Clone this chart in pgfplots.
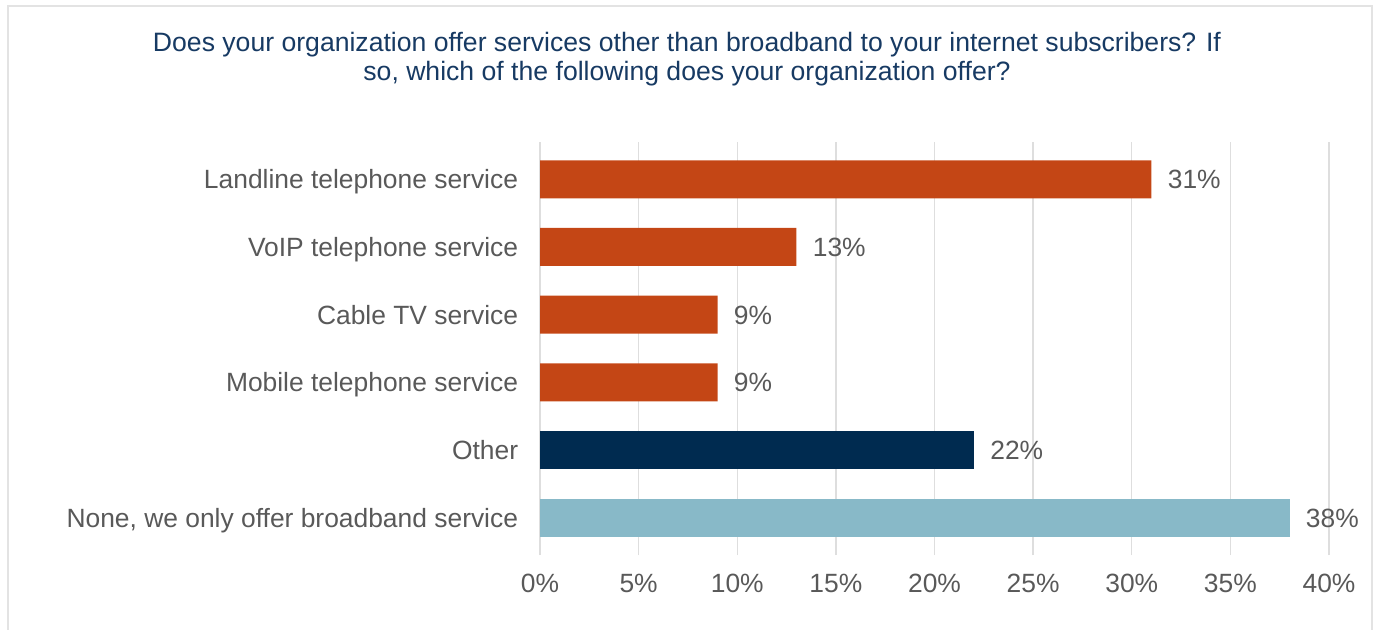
\documentclass[border=0pt]{standalone}
\usepackage{pgfplots}
\pgfplotsset{compat=1.18}
\usepackage{fontspec}
\setmainfont{Liberation Sans}
\definecolor{barorange}{HTML}{C44615}
\definecolor{barnavy}{HTML}{002B50}
\definecolor{barlight}{HTML}{88B9C8}
\definecolor{textgray}{HTML}{595959}
\definecolor{titleblue}{HTML}{173A63}
\definecolor{gridgray}{HTML}{DEDEDE}
\definecolor{framegray}{HTML}{E3E3E3}

\begin{document}
\begin{tikzpicture}[x=1pt,y=1pt]
\begin{axis}[
  at={(270pt,37pt)}, anchor=south west,
  scale only axis, width=394.5pt, height=206.5pt,
  xmin=0, xmax=40, ymin=-0.55, ymax=5.55,
  xbar, bar width=19pt, bar shift=0pt,
  xtick={0,5,...,40},
  xticklabel={\pgfmathprintnumber{\tick}\%},
  /pgf/number format/assume math mode=true,
  ytick={0,...,5},
  yticklabels={{None, we only offer broadband service}, Other, Mobile telephone service, Cable TV service, VoIP telephone service, Landline telephone service},
  xmajorgrids, grid style={color=gridgray, line width=0.7pt},
  axis line style={draw=none}, tick style={draw=none},
  tick label style={font=\fontsize{13.2}{15}\selectfont, color=textgray},
  yticklabel style={inner sep=0pt, xshift=-6.5pt, text height=9.4pt, text depth=0pt},
  xticklabel style={inner sep=0pt, anchor=north, yshift=-9.5pt},
  nodes near coords={\pgfmathprintnumber{\pgfplotspointmeta}\%},
  nodes near coords style={font=\fontsize{13.2}{15}\selectfont, color=textgray, anchor=west, inner sep=0pt, xshift=8pt, text height=9.4pt, text depth=0pt},
]
\addplot[fill=barorange, draw=none] coordinates {(31,5) (13,4) (9,3) (9,2)};
\addplot[fill=barnavy, draw=none] coordinates {(22,1)};
\addplot[fill=barlight, draw=none] coordinates {(38,0)};
\end{axis}
\node[align=center, font=\fontsize{13.3}{14.5}\selectfont, color=titleblue] at (343.5,284.75)
  {Does your organization offer services other than broadband to your internet subscribers? If\\ so, which of the following does your organization offer?};
\draw[framegray, line width=1pt] (4,-5) rectangle (686,311.5);
\pgfresetboundingbox
\useasboundingbox (0,0) rectangle (687,314.5);
\end{tikzpicture}
\end{document}
